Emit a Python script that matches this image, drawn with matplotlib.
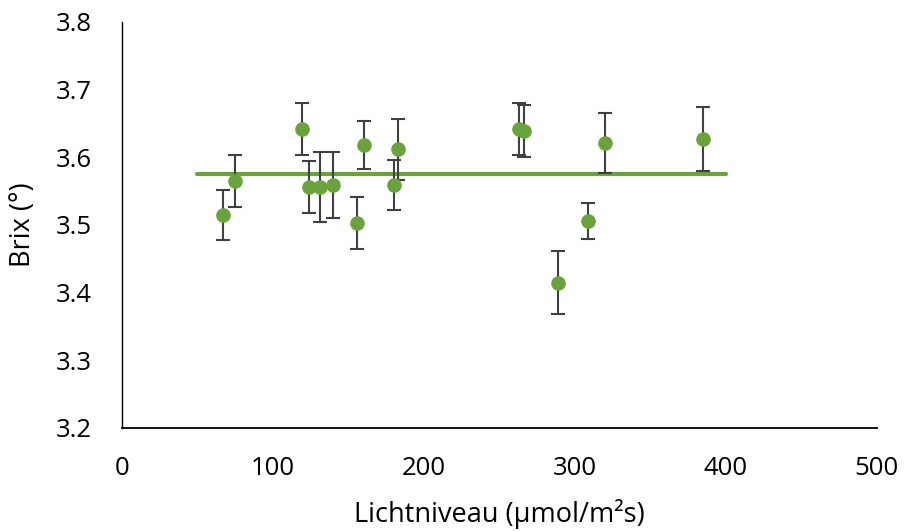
import numpy as np
import matplotlib
matplotlib.use("Agg")
import matplotlib.pyplot as plt

# --------------------------
# DATA
# --------------------------
licht = [67, 75, 119, 124, 131, 140, 156, 160, 180, 183, 263, 266, 289, 309, 320, 385]
brix = [3.515, 3.565, 3.642, 3.556, 3.556, 3.559, 3.503, 3.618, 3.559, 3.612,
        3.642, 3.639, 3.415, 3.506, 3.621, 3.627]
brix_err = [0.037, 0.038, 0.038, 0.038, 0.052, 0.049, 0.039, 0.036, 0.037, 0.045,
            0.038, 0.038, 0.047, 0.026, 0.044, 0.047]

mean_x = [50, 400]
mean_y = [3.575, 3.575]

x_ticks = [0, 100, 200, 300, 400, 500]
y_ticks = [3.2, 3.3, 3.4, 3.5, 3.6, 3.7, 3.8]

GREEN = "#6AA33D"
ERR = "#404040"

plt.rcParams["font.family"] = ["Open Sans", "DejaVu Sans"]

fig = plt.figure(figsize=(9.05, 5.31), dpi=100)
ax = fig.add_axes([0.1348, 0.194, 0.834, 0.7646])

ax.plot(mean_x, mean_y, color=GREEN, linewidth=3, solid_capstyle="round", zorder=2)
ax.errorbar(licht, brix, yerr=brix_err, fmt="o", color=GREEN, markersize=9.5,
            ecolor=ERR, elinewidth=1.5, capsize=5, capthick=1.5, zorder=3)

ax.set_xlim(0, 500)
ax.set_ylim(3.2, 3.8)
ax.set_xticks(x_ticks)
ax.set_yticks(y_ticks)
ax.set_yticklabels([f"{v:.1f}" for v in y_ticks])
ax.tick_params(axis="both", length=0, labelsize=18.5, colors="black")
ax.tick_params(axis="x", pad=20)
ax.tick_params(axis="y", pad=22)

for s in ["top", "right"]:
    ax.spines[s].set_visible(False)
ax.spines["left"].set_color("black")
ax.spines["left"].set_linewidth(1.0)
ax.spines["bottom"].set_color("black")
ax.spines["bottom"].set_linewidth(1.3)

ax.set_xlabel("Lichtniveau (µmol/m²s)", fontsize=19.5, labelpad=13)
ax.set_ylabel("Brix (°)", fontsize=19.5, labelpad=13)

fig.savefig("out.png", dpi=100)
